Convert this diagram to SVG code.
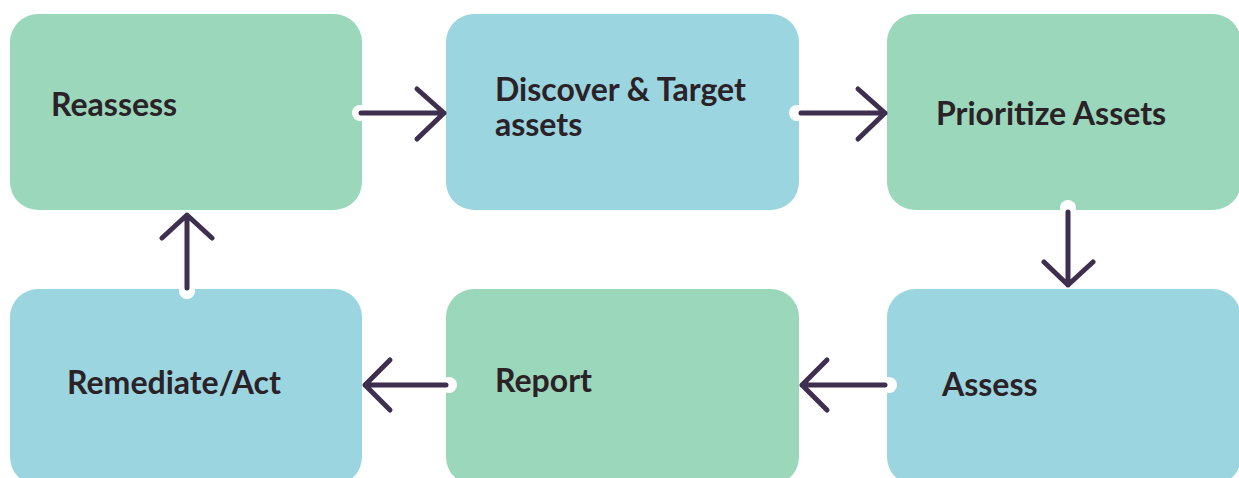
<svg xmlns="http://www.w3.org/2000/svg" width="1239" height="478" viewBox="0 0 1239 478">
  <defs>
    <style>
      .green { fill: #9bd7bb; }
      .blue { fill: #9bd5e0; }
      .label { font-family: Lato, "Liberation Sans", sans-serif; font-weight: 700; font-size: 32px; fill: #2b2228; }
      .line { fill: none; stroke: #3f2f4e; stroke-width: 5; stroke-linecap: round; stroke-linejoin: round; }
      .dot { fill: #ffffff; }
    </style>
  </defs>
  <rect width="1239" height="478" fill="#ffffff"/>

  <g id="node-reassess">
    <rect class="green" x="10" y="14" width="352" height="196" rx="28"/>
    <text class="label" x="51" y="116">Reassess</text>
  </g>
  <g id="node-discover">
    <rect class="blue" x="446" y="14" width="353" height="196" rx="28"/>
    <text class="label" x="495" y="101">Discover &amp; Target<tspan x="495" dy="35">assets</tspan></text>
  </g>
  <g id="node-prioritize">
    <rect class="green" x="887" y="14" width="354" height="196" rx="28"/>
    <text class="label" x="936" y="125">Prioritize Assets</text>
  </g>
  <g id="node-remediate">
    <rect class="blue" x="10" y="289" width="352" height="196" rx="28"/>
    <text class="label" x="67" y="394">Remediate/Act</text>
  </g>
  <g id="node-report">
    <rect class="green" x="446" y="289" width="353" height="196" rx="28"/>
    <text class="label" x="495" y="392">Report</text>
  </g>
  <g id="node-assess">
    <rect class="blue" x="887" y="289" width="354" height="196" rx="28"/>
    <text class="label" x="942" y="396">Assess</text>
  </g>

  <g id="connectors">
    <!-- Reassess -> Discover -->
    <circle class="dot" cx="360" cy="113" r="8"/>
    <path class="line" d="M361 113 H444 M417 89 L444 113 L417 139"/>
    <!-- Discover -> Prioritize -->
    <circle class="dot" cx="797" cy="113" r="8"/>
    <path class="line" d="M801 113 H885 M858 89 L885 113 L858 139"/>
    <!-- Prioritize -> Assess -->
    <circle class="dot" cx="1068" cy="208" r="8"/>
    <path class="line" d="M1068 212 V285 M1044 262 L1068 285 L1093 262"/>
    <!-- Assess -> Report -->
    <circle class="dot" cx="889" cy="385" r="8"/>
    <path class="line" d="M885 385 H802 M827 360 L802 385 L827 410"/>
    <!-- Report -> Remediate -->
    <circle class="dot" cx="449" cy="385" r="8"/>
    <path class="line" d="M446 385 H365 M390 360 L365 385 L390 410"/>
    <!-- Remediate -> Reassess -->
    <circle class="dot" cx="187" cy="291" r="8"/>
    <path class="line" d="M187 288 V215 M162 238 L187 215 L212 238"/>
  </g>
</svg>
